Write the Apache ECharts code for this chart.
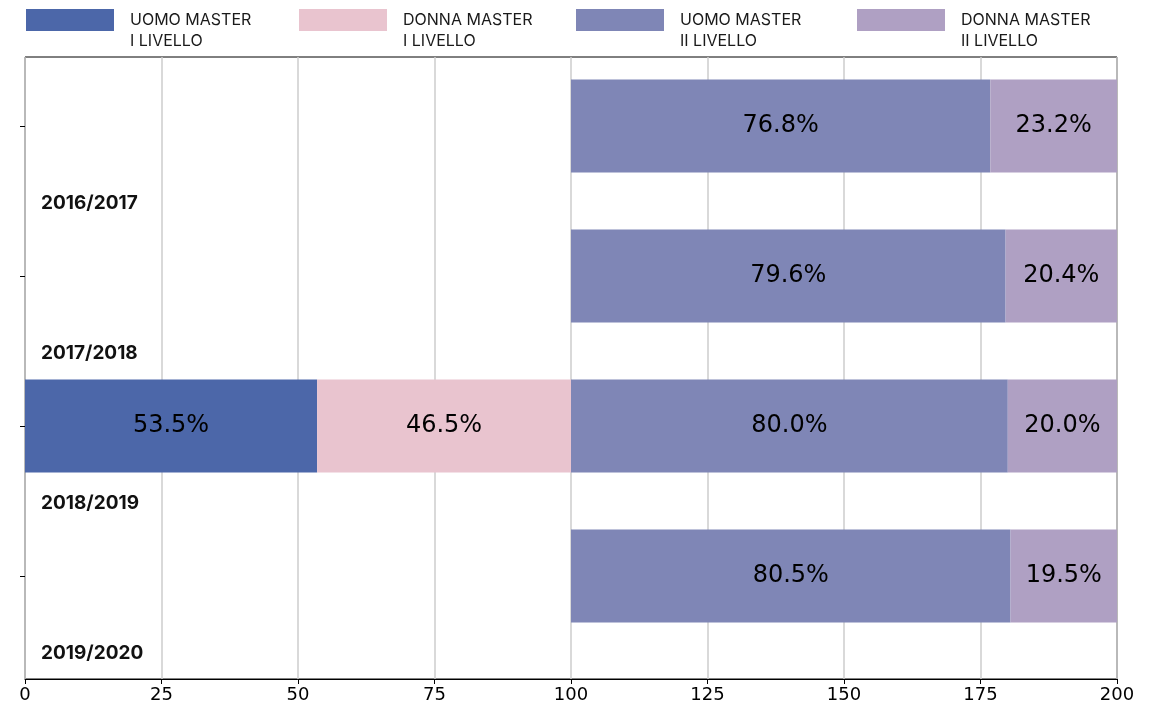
<!DOCTYPE html>
<html><head><meta charset="utf-8">
<script src="https://cdn.jsdelivr.net/npm/echarts@6/dist/echarts.min.js"></script>
<style>html,body{margin:0;padding:0;background:#fff}#c{width:1154px;height:709px}</style>
</head><body><div id="c"></div>
<script>
const categories = ['2016/2017', '2017/2018', '2018/2019', '2019/2020'];
const uomoI = ['-', '-', 53.5, '-'];
const donnaI = ['-', '-', 46.5, '-'];
const uomoII = [76.8, 79.6, 80.0, 80.5];
const donnaII = [23.2, 20.4, 20.0, 19.5];
const offsetII = [100, 100, 100, 100];
const xTicks = [0, 25, 50, 75, 100, 125, 150, 175, 200];
const seriesNames = ['UOMO MASTER\nI LIVELLO', 'DONNA MASTER\nI LIVELLO', 'UOMO MASTER\nII LIVELLO', 'DONNA MASTER\nII LIVELLO'];
const colors = ['#4C67A9', '#E9C4CF', '#7F86B6', '#AFA0C3'];

const chart = echarts.init(document.getElementById('c'));
const lbl = {show: true, position: 'inside', color: '#000', fontSize: 24, fontFamily: 'DejaVu Sans',
  formatter: p => Number(p.value).toFixed(1) + '%'};
const barW = 93;
function legend(i, left) {
  return {data: [seriesNames[i]], left: left, top: -9, padding: 0, itemWidth: 88, itemHeight: 22, itemGap: 0,
    icon: 'rect', selectedMode: false,
    formatter: name => '{s|\u00a0}\n' + name.split('\n').map(l => '{t|' + l + '}').join('\n'),
    textStyle: {rich: {
      s: {fontFamily: 'Inter', fontSize: 16, lineHeight: 21},
      t: {fontFamily: 'Inter', fontSize: 16, color: '#1a1a1a', lineHeight: 21, padding: [0, 0, 0, 11]}
    }}};
}
chart.setOption({
  animation: false,
  legend: [legend(0, 26), legend(1, 299), legend(2, 576), legend(3, 857)],
  grid: [
    {left: 25, right: 37, top: 57, bottom: 30, show: true, borderColor: '#000', borderWidth: 1,
      containLabel: false, outerBoundsMode: 'none'},
    {left: 25, right: 37, top: 51, bottom: 58, containLabel: false, outerBoundsMode: 'none'}
  ],
  xAxis: [
    {gridIndex: 0, type: 'value', min: 0, max: 200, interval: 25,
      axisLine: {show: true, lineStyle: {color: '#000'}},
      axisTick: {show: true, length: 5, lineStyle: {color: '#000'}},
      axisLabel: {color: '#000', fontSize: 18, fontFamily: 'DejaVu Sans', margin: 7,
        formatter: v => xTicks.includes(v) ? String(v) : ''},
      splitLine: {show: true, lineStyle: {color: '#cccccc', width: 1.5}}},
    {gridIndex: 1, type: 'value', min: 0, max: 200, show: false}
  ],
  yAxis: [
    {gridIndex: 0, type: 'value', show: false},
    {gridIndex: 1, type: 'category', data: categories, inverse: true,
      axisLine: {show: false},
      axisTick: {show: true, alignWithLabel: true, interval: 0, length: 5, lineStyle: {color: '#000'}},
      axisLabel: {inside: true, interval: 0, hideOverlap: false, margin: 16, color: '#111', fontSize: 19,
        fontWeight: 'bold', fontFamily: 'Inter', verticalAlign: 'top', lineHeight: 154},
      splitLine: {show: false}}
  ],
  series: [
    {name: seriesNames[0], type: 'bar', xAxisIndex: 1, yAxisIndex: 1, stack: 'a', data: uomoI,
      barWidth: barW, itemStyle: {color: colors[0]}, label: lbl},
    {name: seriesNames[1], type: 'bar', xAxisIndex: 1, yAxisIndex: 1, stack: 'a', data: donnaI,
      barWidth: barW, itemStyle: {color: colors[1]}, label: lbl},
    {name: 'offset', type: 'bar', xAxisIndex: 1, yAxisIndex: 1, stack: 'b', data: offsetII,
      barWidth: barW, barGap: '-100%', itemStyle: {color: 'rgba(0,0,0,0)'}, silent: true, label: {show: false}},
    {name: seriesNames[2], type: 'bar', xAxisIndex: 1, yAxisIndex: 1, stack: 'b', data: uomoII,
      barWidth: barW, barGap: '-100%', itemStyle: {color: colors[2]}, label: lbl},
    {name: seriesNames[3], type: 'bar', xAxisIndex: 1, yAxisIndex: 1, stack: 'b', data: donnaII,
      barWidth: barW, barGap: '-100%', itemStyle: {color: colors[3]}, label: lbl}
  ]
});
</script></body></html>
